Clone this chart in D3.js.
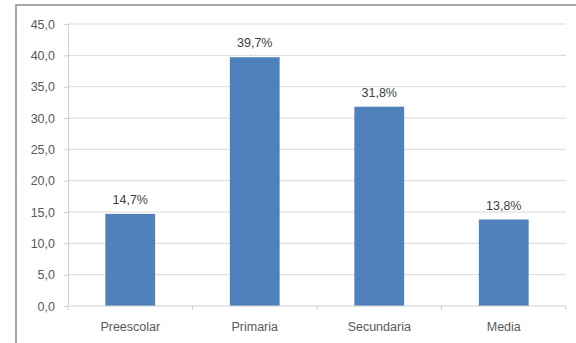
<!DOCTYPE html>
<html>
<head>
<meta charset="utf-8">
<script src="https://cdn.jsdelivr.net/npm/d3@7"></script>
<style>
  body { margin: 0; background: #fff; }
  svg text { font-family: "Liberation Sans", Arial, sans-serif; fill: #404040; }
</style>
</head>
<body>
<div id="chart"></div>
<script>
// chart data
var categories = ["Preescolar", "Primaria", "Secundaria", "Media"];
var values = [14.7, 39.7, 31.8, 13.8];
var yTicks = [0, 5, 10, 15, 20, 25, 30, 35, 40, 45];

var width = 576, height = 343;
var margin = { top: 24, right: 10, bottom: 37, left: 68 };

var svg = d3.select("#chart").append("svg")
    .attr("width", width)
    .attr("height", height);

// outer frame, cut off on the right and bottom like the screenshot
svg.append("rect")
    .attr("x", 16).attr("y", 5)
    .attr("width", 600).attr("height", 400)
    .attr("fill", "none")
    .attr("stroke", "#8c8c8c")
    .attr("stroke-width", 1.5);

var x = d3.scaleBand()
    .domain(categories)
    .range([margin.left, 566])
    .paddingInner(0.6)
    .paddingOuter(0.3);

var y = d3.scaleLinear()
    .domain([0, 45])
    .range([306, margin.top]);

var g = svg.append("g");

// gridlines
g.selectAll(".grid").data(yTicks.slice(1)).enter().append("line")
    .attr("x1", margin.left).attr("x2", 566)
    .attr("y1", function(d) { return y(d); })
    .attr("y2", function(d) { return y(d); })
    .attr("stroke", "#d9d9d9")
    .attr("stroke-width", 1);

// y axis
var yAxis = d3.axisLeft(y)
    .tickValues(yTicks)
    .tickSize(4)
    .tickFormat(function(d) { return d3.format(".1f")(d).replace(".", ","); });

var ya = svg.append("g")
    .attr("transform", "translate(" + margin.left + ",0)")
    .call(yAxis);
ya.select(".domain").attr("stroke", "#d0d0d0");
ya.selectAll(".tick line").attr("stroke", "#d0d0d0");
ya.selectAll(".tick text")
    .attr("x", -13)
    .style("font-size", "12.5px")
    .style("fill", "#595959");

// x axis
var xa = svg.append("g")
    .attr("transform", "translate(0,306)");
xa.append("line")
    .attr("x1", margin.left).attr("x2", 566)
    .attr("stroke", "#d0d0d0");
var bounds = categories.map(function(c) { return x(c) - x.step() * x.paddingInner() / 2; });
bounds.push(566);
xa.selectAll(".xt").data(bounds).enter().append("line")
    .attr("x1", function(d) { return d; })
    .attr("x2", function(d) { return d; })
    .attr("y1", 0).attr("y2", 4)
    .attr("stroke", "#d0d0d0");
xa.selectAll(".xl").data(categories).enter().append("text")
    .attr("x", function(d) { return x(d) + x.bandwidth() / 2; })
    .attr("y", 25)
    .attr("text-anchor", "middle")
    .style("font-size", "12.5px")
    .style("fill", "#595959")
    .text(function(d) { return d; });

// bars
g.selectAll(".bar").data(values).enter().append("rect")
    .attr("x", function(d, i) { return x(categories[i]); })
    .attr("y", function(d) { return y(d); })
    .attr("width", x.bandwidth())
    .attr("height", function(d) { return y(0) - y(d); })
    .attr("fill", "#4f81bd");

// value labels
g.selectAll(".lbl").data(values).enter().append("text")
    .attr("x", function(d, i) { return x(categories[i]) + x.bandwidth() / 2; })
    .attr("y", function(d) { return y(d) - 10; })
    .attr("text-anchor", "middle")
    .style("font-size", "12.5px")
    .style("fill", "#404040")
    .text(function(d) { return d3.format(".1f")(d).replace(".", ",") + "%"; });
</script>
</body>
</html>
